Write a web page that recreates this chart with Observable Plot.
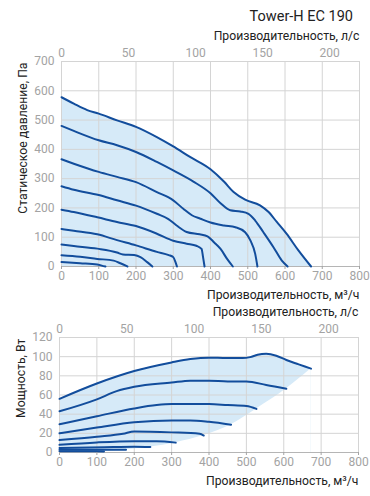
<!DOCTYPE html>
<html>
<head>
<meta charset="utf-8">
<script src="https://cdn.jsdelivr.net/npm/d3@7"></script>
<script src="https://cdn.jsdelivr.net/npm/@observablehq/plot@0.6"></script>
<style>
  body { margin: 0; background: #fff; width: 370px; }
  #title { height: 26px; box-sizing: border-box; padding: 10px 17px 0 0; text-align: right;
           font: 14.5px Roboto, sans-serif; line-height: 14px; color: #222; }
  svg { display: block; }
</style>
</head>
<body>
<div id="title">Tower-H EC 190</div>
<div id="c1"></div>
<div id="c2"></div>
<script>
// ---- data ----
const flowTicks = [0, 100, 200, 300, 400, 500, 600, 700, 800];      // m³/h
const flowLsTicks = [0, 50, 100, 150, 200];                          // l/s
const pressureTicks = [0, 100, 200, 300, 400, 500, 600, 700];       // Pa
const powerTicks = [0, 20, 40, 60, 80, 100, 120];                    // W

// static pressure curves [m³/h, Pa]
const pressure1 = [[0,578],[33,556],[69,534],[100,522],[149,499],[200,477],[256,442],[300,410],[345,374],[400,332],[436,290],[462,254],[493,228],[533,209],[556,186],[578,152],[604,112],[636,55],[670,0]];
const pressure2 = [[0,480],[33,463],[100,431],[149,414],[200,391],[256,357],[300,328],[354,290],[400,250],[427,216],[453,192],[480,188],[502,180],[520,157],[542,117],[569,66],[591,21],[607,0]];
const pressure3 = [[0,366],[33,351],[100,323],[149,306],[200,288],[256,254],[300,226],[327,197],[350,175],[373,163],[400,150],[436,140],[467,134],[493,117],[507,89],[520,43],[526,0]];
const pressure4 = [[0,274],[33,262],[100,244],[149,226],[200,208],[256,180],[287,162],[309,140],[336,118],[371,110],[392,103],[410,82],[427,60],[445,25],[460,0]];
const pressure5 = [[0,194],[33,186],[96,168],[149,152],[200,138],[256,112],[300,88],[336,78],[362,71],[376,60],[380,32],[384,0]];
const pressure6 = [[0,128],[33,122],[96,110],[149,90],[200,72],[256,50],[288,39],[300,32],[306,15],[310,0]];
const pressure7 = [[0,75],[33,70],[96,61],[149,48],[165,41],[195,39],[212,32],[230,15],[244,0]];
const pressure8 = [[0,38],[50,33],[96,26],[140,20],[158,11],[177,0]];
const pressure9 = [[0,15],[50,11],[96,7],[108,3],[118,0]];
const pressureCurves = [pressure1, pressure2, pressure3, pressure4, pressure5, pressure6, pressure7, pressure8, pressure9];

// power curves [m³/h, W]
const power1 = [[0,56],[100,72],[200,85],[300,94],[350,97.5],[400,99],[447,98.5],[490,98.5],[510,99.5],[530,102],[553,103],[580,101],[607,96.5],[640,92],[673,87.5]];
const power2 = [[0,43],[100,55.5],[153,64],[200,68.5],[300,73],[350,75],[400,75],[450,74],[500,74],[553,70.5],[607,66.5]];
const power3 = [[0,29.5],[100,37.8],[200,46],[260,49.5],[300,50.5],[400,50.5],[450,49.5],[500,48.5],[527,45.5]];
const power4 = [[0,20],[100,26],[200,31.5],[300,33.5],[350,33.5],[400,32],[459,29]];
const power5 = [[0,13],[100,16.5],[170,19.5],[200,22],[300,21],[375,19.5],[386,17.7]];
const power6 = [[0,8],[100,10.5],[200,11.8],[260,11.8],[311,10.3]];
const power7 = [[0,4.6],[120,5.5],[200,6],[243,5.7]];
const power8 = [[0,2.9],[100,3],[178,2.8]];
const power9 = [[0,1.4],[60,1.3],[119,1.1]];
const powerCurves = [power1, power2, power3, power4, power5, power6, power7, power8, power9];

// ---- styles ----
const FONT = "Roboto";
const LINE = "#124d9c";
const FILL = "#d6eaf8";
const GRID = "#d4d4d4";
const TICK = "#a3a3a3";
const INK = "#222";

const toRows = curves => curves.flatMap((c, i) => c.map(([x, y]) => ({x, y, s: i})));

function chart({curves, yDomain, yTicks, yLabel, height, marginTop, marginBottom, marginLeft, marginRight, lower}) {
  const marks = [
    Plot.areaY(curves[0], {x: d => d[0], y: d => d[1], fill: FILL, curve: "monotone-x"})
  ];
  if (lower) marks.push(Plot.areaY(lower, {x: d => d[0], y: d => d[1], fill: "#fff", curve: "monotone-x"}));
  marks.push(
    Plot.gridX(flowTicks, {stroke: GRID, strokeOpacity: 1}),
    Plot.gridY(yTicks, {stroke: GRID, strokeOpacity: 1}),
    Plot.ruleY([0], {stroke: "#b5b5b5"}),
    Plot.line(toRows(curves), {x: "x", y: "y", z: "s", stroke: LINE, strokeWidth: 2, curve: "monotone-x"}),
    Plot.axisX(flowTicks, {anchor: "bottom", tickSize: 3, tickPadding: 2, label: null, color: TICK, fontSize: 12}),
    Plot.axisX(flowLsTicks.map(v => v * 3.6), {anchor: "top", tickSize: 0, tickPadding: 5, label: null, color: TICK, fontSize: 12, tickFormat: d => String(Math.round(d / 3.6))}),
    Plot.axisY(yTicks, {anchor: "left", tickSize: 0, tickPadding: 7, label: null, color: TICK, fontSize: 12}),
    Plot.text(["Производительность, л/с"], {frameAnchor: "top-right", textAnchor: "end", lineAnchor: "middle", dy: -25, fill: INK, fontSize: 12.2}),
    Plot.text(["Производительность, м³/ч"], {frameAnchor: "bottom-right", textAnchor: "end", lineAnchor: "middle", dy: 29, fill: INK, fontSize: 12.2}),
    Plot.text([yLabel], {frameAnchor: "top-left", textAnchor: "end", lineAnchor: "middle", rotate: -90, dx: -38, dy: 1, fill: INK, fontSize: 12.2})
  );
  return Plot.plot({
    width: 370, height, marginTop, marginBottom, marginLeft, marginRight,
    style: {fontFamily: FONT, fontSize: "12px", background: "#fff", overflow: "visible"},
    x: {domain: [0, 800]},
    y: {domain: yDomain},
    marks
  });
}

document.getElementById("c1").append(chart({
  curves: pressureCurves, yDomain: [0, 700], yTicks: pressureTicks,
  yLabel: "Статическое давление, Па",
  height: 277, marginTop: 35, marginBottom: 37, marginLeft: 61, marginRight: 11
}));

const powerEdge = [[0, 0], ...powerCurves.slice().reverse().map(c => c[c.length - 1])];

document.getElementById("c2").append(chart({
  curves: powerCurves, yDomain: [0, 120], yTicks: powerTicks,
  yLabel: "Мощность, Вт",
  height: 193, marginTop: 34, marginBottom: 44, marginLeft: 59, marginRight: 12,
  lower: powerEdge
}));
</script>
</body>
</html>
